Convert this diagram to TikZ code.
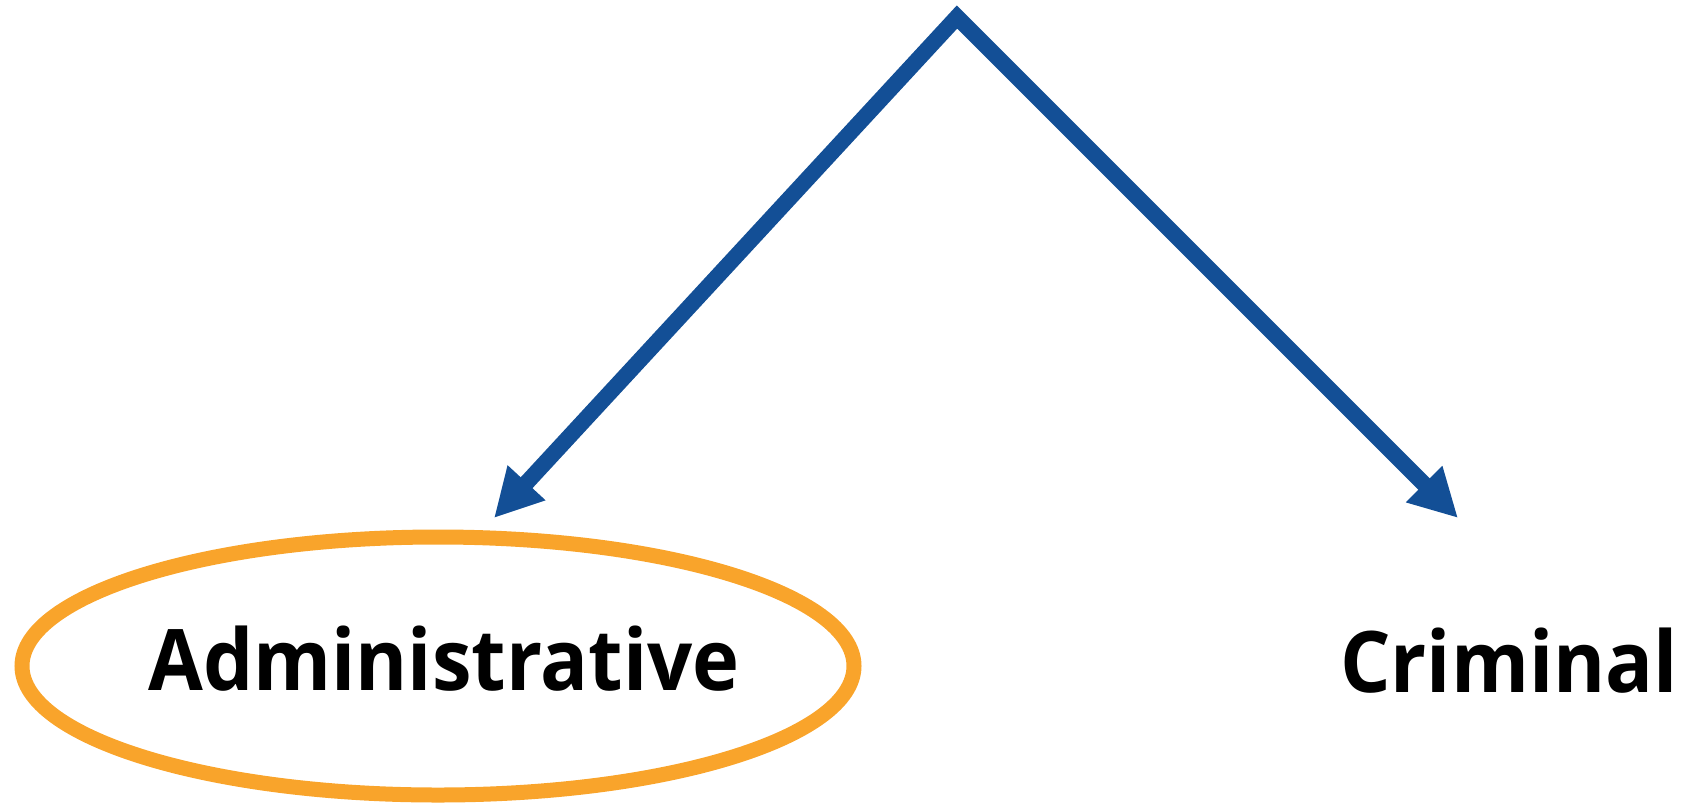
\documentclass[tikz,border=0pt]{standalone}
\usepackage{fontspec}
\setmainfont{Open Sans}[FakeStretch=0.935]
\usetikzlibrary{arrows.meta}
\definecolor{arrowblue}{HTML}{134F96}
\definecolor{ringorange}{HTML}{F9A42B}
\tikzset{
  conn/.style={draw=arrowblue, line width=16pt, line join=miter,
    {Triangle[length=48pt,width=48pt]}-{Triangle[length=48pt,width=48pt]}},
  label/.style={font=\fontsize{85}{100}\selectfont\bfseries, text=black, inner sep=0pt, anchor=base},
  ring/.style={draw=ringorange, line width=15pt}
}
\begin{document}
\begin{tikzpicture}[x=1pt,y=-1pt]
\useasboundingbox (0,0) rectangle (1688,804);
\coordinate (apex) at (957,17);
\coordinate (ltip) at (494,518);
\coordinate (rtip) at (1458,518);
\draw[conn] (ltip) -- (apex) -- (rtip);
\draw[ring] (438,666) ellipse [x radius=416, y radius=129];
\node[label] (adm) at (444,690) {Administrative};
\node[label] (crim) at (1509,692) {Criminal};
\end{tikzpicture}
\end{document}
